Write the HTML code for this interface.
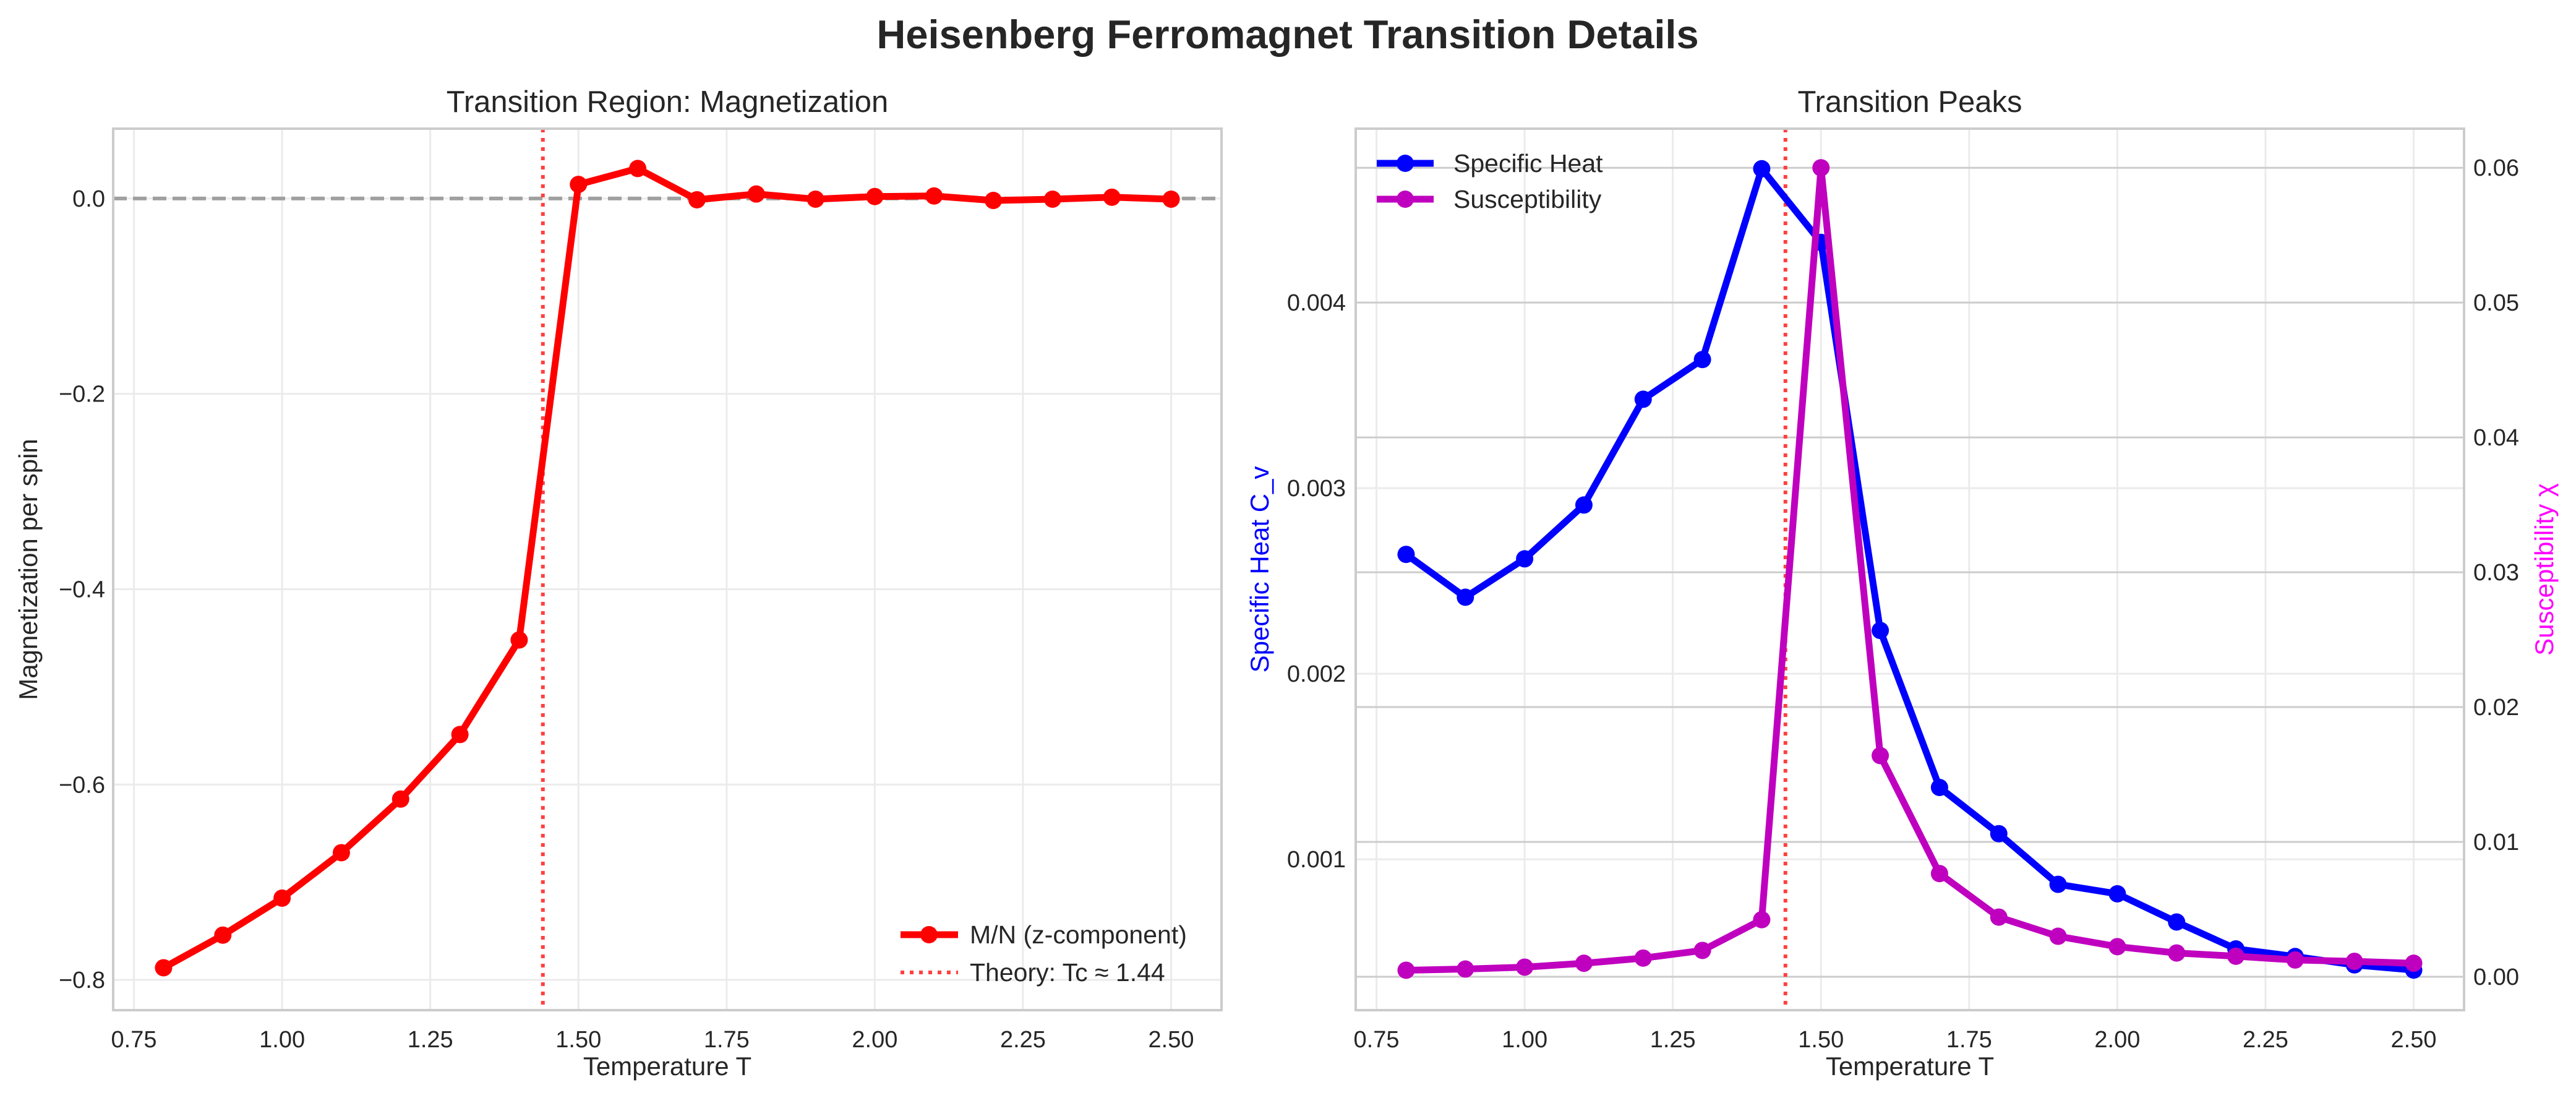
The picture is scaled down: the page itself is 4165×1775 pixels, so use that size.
<!DOCTYPE html>
<html><head><meta charset="utf-8"><style>
html,body{margin:0;padding:0;background:#fff;}
svg{display:block;font-family:"Liberation Sans",sans-serif;}
</style></head><body>
<svg id="fig" width="4165" height="1775" viewBox="0 0 4165 1775" xmlns="http://www.w3.org/2000/svg">
<rect width="4165" height="1775" fill="#fff"/>
<text x="2082" y="78" text-anchor="middle" font-size="65" font-weight="bold" fill="#262626">Heisenberg Ferromagnet Transition Details</text>
<g id="left"></g>
<g id="right"></g>
</svg>
<script>
const temps=[0.8,0.9,1.0,1.1,1.2,1.3,1.4,1.5,1.6,1.7,1.8,1.9,2.0,2.1,2.2,2.3,2.4,2.5];
const magnetization=[-0.7876,-0.7542,-0.7163,-0.6698,-0.6149,-0.5488,-0.452,0.0144,0.0307,-0.0013,0.0046,-0.0007,0.002,0.0026,-0.002,-0.0007,0.0013,-0.0007];
const specificHeat=[0.002643,0.002412,0.002619,0.002909,0.003479,0.003693,0.004721,0.004324,0.002233,0.001387,0.001138,0.000865,0.000814,0.000662,0.000517,0.000476,0.000431,0.000403];
const susceptibility=[0.00048,0.00057,0.00071,0.001,0.00138,0.00195,0.00423,0.06,0.0164,0.00765,0.00442,0.003,0.00223,0.00176,0.00152,0.00124,0.00114,0.001];
const xTicks=[0.75,1.0,1.25,1.5,1.75,2.0,2.25,2.5];
const xTickLabels=["0.75","1.00","1.25","1.50","1.75","2.00","2.25","2.50"];
const magTicks=[0.0,-0.2,-0.4,-0.6,-0.8];
const magTickLabels=["0.0","\u22120.2","\u22120.4","\u22120.6","\u22120.8"];
const cvTicks=[0.001,0.002,0.003,0.004];
const cvTickLabels=["0.001","0.002","0.003","0.004"];
const chiTicks=[0,0.01,0.02,0.03,0.04,0.05,0.06];
const chiTickLabels=["0.00","0.01","0.02","0.03","0.04","0.05","0.06"];
const tcTheory=1.44;

const NS="http://www.w3.org/2000/svg";
const TFS=38, LFS=42, LEGFS=41, STFS=49;
function mk(parent,tag,attrs,text){const e=document.createElementNS(NS,tag);for(const k in attrs)e.setAttribute(k,attrs[k]);if(text!==undefined)e.textContent=text;parent.appendChild(e);return e;}
const TOP=208,BOT=1633,XMIN=0.715,XMAX=2.585;
function xs(L,R){return v=>L+(v-XMIN)/(XMAX-XMIN)*(R-L);}
function ys(a,b){return v=>BOT-(v-a)/(b-a)*(BOT-TOP);}
function pts(xf,yf,xv,yv){return xv.map((x,i)=>xf(x).toFixed(1)+","+yf(yv[i]).toFixed(1)).join(" ");}

// LEFT
(function(){
const g=document.getElementById('left');
const L=183,R=1975;const x=xs(L,R);const y=ys(-0.831,0.0715);
xTicks.forEach((t,i)=>{
 const gl=mk(g,'line',{x1:x(t),x2:x(t),y1:TOP,y2:BOT,stroke:'#ebebeb','stroke-width':3});
 
 const tl=mk(g,'text',{x:x(t),y:1693,'text-anchor':'middle','font-size':TFS,fill:'#262626'},xTickLabels[i]);
 
});
magTicks.forEach((t,i)=>{
 const gl=mk(g,'line',{x1:L,x2:R,y1:y(t),y2:y(t),stroke:'#ebebeb','stroke-width':3});
 
 const tl=mk(g,'text',{x:170,y:y(t)+13,'text-anchor':'end','font-size':TFS,fill:'#262626'},magTickLabels[i]);
 
});
const zl=mk(g,'line',{x1:L,x2:R,y1:y(0),y2:y(0),stroke:'#a0a0a0','stroke-width':6,'stroke-dasharray':'22 10'});

const tc=mk(g,'line',{x1:x(tcTheory),x2:x(tcTheory),y1:TOP,y2:BOT,stroke:'#ff4040','stroke-width':6,'stroke-dasharray':'6 9'});

const ln=mk(g,'polyline',{points:pts(x,y,temps,magnetization),fill:'none',stroke:'#ff0000','stroke-width':11,'stroke-linejoin':'round'});

temps.forEach((t,i)=>{const c=mk(g,'circle',{cx:x(t),cy:y(magnetization[i]),r:14,fill:'#ff0000'});
 });
const fr=mk(g,'rect',{x:L,y:TOP,width:R-L,height:BOT-TOP,fill:'none',stroke:'#cccccc','stroke-width':4});

const tt=mk(g,'text',{x:(L+R)/2,y:181,'text-anchor':'middle','font-size':STFS,fill:'#262626'},'Transition Region: Magnetization');

const xl=mk(g,'text',{x:(L+R)/2,y:1738,'text-anchor':'middle','font-size':LFS,fill:'#262626'},'Temperature T');

const yl=mk(g,'text',{x:0,y:0,'text-anchor':'middle','font-size':LFS,fill:'#262626',transform:'translate(60,'+((TOP+BOT)/2)+') rotate(-90)'},'Magnetization per spin');

const lg=mk(g,'g',{});
mk(lg,'line',{x1:1456,x2:1549,y1:1511,y2:1511,stroke:'#ff0000','stroke-width':11});
mk(lg,'circle',{cx:1502,cy:1511,r:14,fill:'#ff0000'});
mk(lg,'text',{x:1568,y:1525,'font-size':LEGFS,fill:'#262626'},'M/N (z-component)');
mk(lg,'line',{x1:1456,x2:1549,y1:1572,y2:1572,stroke:'#ff4040','stroke-width':6,'stroke-dasharray':'6 9'});
mk(lg,'text',{x:1568,y:1586,'font-size':LEGFS,fill:'#262626'},'Theory: Tc \u2248 1.44');
})();

// RIGHT
(function(){
const g=document.getElementById('right');
const L=2192,R=3984;const x=xs(L,R);const yc=ys(0.000187,0.004937);const yx=ys(-0.00248,0.0629);
xTicks.forEach((t,i)=>{
 const gl=mk(g,'line',{x1:x(t),x2:x(t),y1:TOP,y2:BOT,stroke:'#ebebeb','stroke-width':3});
 
 const tl=mk(g,'text',{x:x(t),y:1693,'text-anchor':'middle','font-size':TFS,fill:'#262626'},xTickLabels[i]);
 
});
cvTicks.forEach((t,i)=>{
 const gl=mk(g,'line',{x1:L,x2:R,y1:yc(t),y2:yc(t),stroke:'#ebebeb','stroke-width':3});
 
 const tl=mk(g,'text',{x:2176,y:yc(t)+13,'text-anchor':'end','font-size':TFS,fill:'#262626'},cvTickLabels[i]);
 
});
chiTicks.forEach((t,i)=>{
 const gl=mk(g,'line',{x1:L,x2:R,y1:yx(t),y2:yx(t),stroke:'#cccccc','stroke-width':3});
 
 const tl=mk(g,'text',{x:3999,y:yx(t)+13,'text-anchor':'start','font-size':TFS,fill:'#262626'},chiTickLabels[i]);
 
});
const tc=mk(g,'line',{x1:x(tcTheory),x2:x(tcTheory),y1:TOP,y2:BOT,stroke:'#ff4040','stroke-width':6,'stroke-dasharray':'6 9'});

const l1=mk(g,'polyline',{points:pts(x,yc,temps,specificHeat),fill:'none',stroke:'#0000ff','stroke-width':11,'stroke-linejoin':'round'});

temps.forEach((t,i)=>{const c=mk(g,'circle',{cx:x(t),cy:yc(specificHeat[i]),r:14,fill:'#0000ff'});
 });
const l2=mk(g,'polyline',{points:pts(x,yx,temps,susceptibility),fill:'none',stroke:'#bf00bf','stroke-width':11,'stroke-linejoin':'round'});

temps.forEach((t,i)=>{const c=mk(g,'circle',{cx:x(t),cy:yx(susceptibility[i]),r:14,fill:'#bf00bf'});
 });
const fr=mk(g,'rect',{x:L,y:TOP,width:R-L,height:BOT-TOP,fill:'none',stroke:'#cccccc','stroke-width':4});

const tt=mk(g,'text',{x:(L+R)/2,y:181,'text-anchor':'middle','font-size':STFS,fill:'#262626'},'Transition Peaks');

const xl=mk(g,'text',{x:(L+R)/2,y:1738,'text-anchor':'middle','font-size':LFS,fill:'#262626'},'Temperature T');

const yl=mk(g,'text',{x:0,y:0,'text-anchor':'middle','font-size':LFS,fill:'#0000ff',transform:'translate(2051,'+((TOP+BOT)/2)+') rotate(-90)'},'Specific Heat C_v');

const yr=mk(g,'text',{x:0,y:0,'text-anchor':'middle','font-size':LFS,fill:'#ff00ff',transform:'translate(4128,'+((TOP+BOT)/2)+') rotate(-90)'},'Susceptibility \u03c7');

const lg=mk(g,'g',{});
mk(lg,'line',{x1:2226,x2:2318,y1:264,y2:264,stroke:'#0000ff','stroke-width':11});
mk(lg,'circle',{cx:2272,cy:264,r:14,fill:'#0000ff'});
mk(lg,'text',{x:2350,y:278,'font-size':LEGFS,fill:'#262626'},'Specific Heat');
mk(lg,'line',{x1:2226,x2:2318,y1:322,y2:322,stroke:'#bf00bf','stroke-width':11});
mk(lg,'circle',{cx:2272,cy:322,r:14,fill:'#bf00bf'});
mk(lg,'text',{x:2350,y:336,'font-size':LEGFS,fill:'#262626'},'Susceptibility');
})();
</script>
</body></html>
